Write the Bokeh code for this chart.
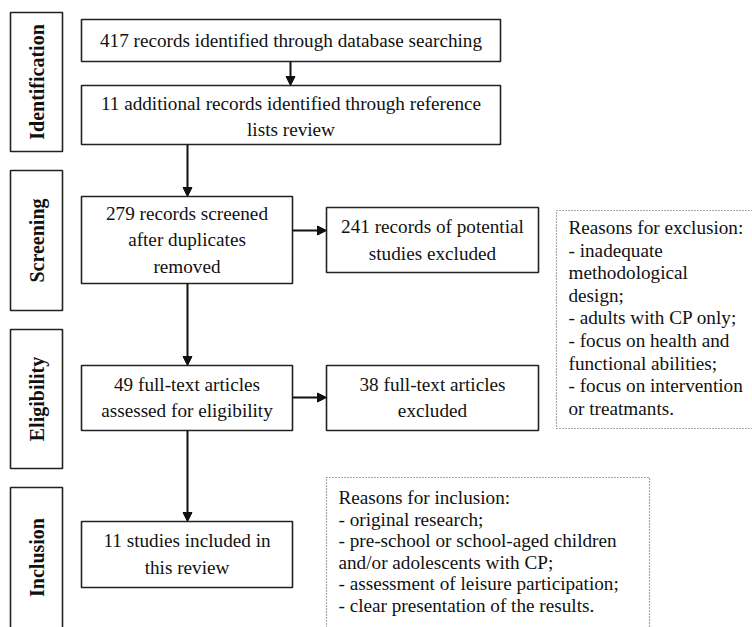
from math import pi
from bokeh.plotting import figure
from bokeh.models import Range1d, Arrow, NormalHead, ColumnDataSource
from bokeh.core.properties import value
from bokeh.embed import file_html
from bokeh.resources import INLINE

# ---- data ----
stages = ["Identification", "Screening", "Eligibility", "Inclusion"]
n_database = 417
n_additional = 11
n_screened = 279
n_excluded_screen = 241
n_fulltext = 49
n_excluded_full = 38
n_included = 11

box_texts = {
    "db": [f"{n_database} records identified through database searching"],
    "add": [f"{n_additional} additional records identified through reference", "lists review"],
    "screen": [f"{n_screened} records screened", "after duplicates", "removed"],
    "excl1": [f"{n_excluded_screen} records of potential", "studies excluded"],
    "full": [f"{n_fulltext} full-text articles", "assessed for eligibility"],
    "excl2": [f"{n_excluded_full} full-text articles", "excluded"],
    "incl": [f"{n_included} studies included in", "this review"],
}
exclusion_reasons = ["Reasons for exclusion:", "- inadequate", "methodological", "design;",
                     "- adults with CP only;", "- focus on health and", "functional abilities;",
                     "- focus on intervention", "or treatmants."]
inclusion_reasons = ["Reasons for inclusion:", "- original research;",
                     "- pre-school or school-aged children", "and/or adolescents with CP;",
                     "- assessment of leisure participation;", "- clear presentation of the results."]

# ---- layout (page pixel coordinates) ----
W, H = 752, 627
stage_boxes = [(10, 62, 12, 151), (10, 62, 170, 310), (10, 62, 329, 468), (10, 62, 487, 632)]
boxes = {
    "db": (81, 500, 19, 61, 40),
    "add": (81, 500, 85, 144, 116),
    "screen": (81, 292, 196, 283, 239),
    "excl1": (326, 538, 207, 272, 239.5),
    "full": (81, 292, 365, 430, 397),
    "excl2": (326, 538, 365, 430, 397),
    "incl": (81, 292, 521, 587, 553.5),
}
line_gap = 26.5
dotted = [(556, 770, 210, 428), (326, 649, 477, 640)]
dotted_text = [(568, 227, 22.6, exclusion_reasons), (338, 497, 21.6, inclusion_reasons)]
arrows = [(290, 61, 290, 85), (187, 144, 187, 196), (292, 230, 326, 230),
          (187, 283, 187, 365), (292, 397, 326, 397), (187, 430, 187, 521)]

FONT = value("Liberation Serif")
FS = "19.2px"

p = figure(width=W, height=H, x_range=Range1d(0, W), y_range=Range1d(H, 0),
           output_backend="svg", toolbar_location=None, x_axis_type=None, y_axis_type=None,
           min_border=0, outline_line_color=None, background_fill_color="white")
p.grid.visible = False

# stage boxes and labels
p.quad(left=[b[0] for b in stage_boxes], right=[b[1] for b in stage_boxes],
       top=[b[2] for b in stage_boxes], bottom=[b[3] for b in stage_boxes],
       fill_color=None, line_color="#222222", line_width=1.6)
p.text(x=[(b[0] + b[1]) / 2 for b in stage_boxes],
       y=[(b[2] + min(b[3], 627)) / 2 for b in stage_boxes],
       text=stages, angle=pi / 2, text_font=FONT, text_font_size="20px", text_font_style="bold",
       text_align="center", text_baseline="middle", text_color="#111111")

# main boxes
keys = list(boxes.keys())
p.quad(left=[boxes[k][0] for k in keys], right=[boxes[k][1] for k in keys],
       top=[boxes[k][2] for k in keys], bottom=[boxes[k][3] for k in keys],
       fill_color=None, line_color="#222222", line_width=1.6)
tx, ty, tt = [], [], []
for k in keys:
    l, r, t, b, cy = boxes[k]
    lines = box_texts[k]
    n = len(lines)
    for i, s in enumerate(lines):
        tx.append((l + r) / 2)
        ty.append(cy + (i - (n - 1) / 2) * line_gap)
        tt.append(s)
p.text(x=tx, y=ty, text=tt, text_font=FONT, text_font_size=FS, text_align="center",
       text_baseline="middle", text_color="#111111")

# dotted boxes
p.quad(left=[d[0] for d in dotted], right=[d[1] for d in dotted],
       top=[d[2] for d in dotted], bottom=[d[3] for d in dotted],
       fill_color=None, line_color="#555555", line_width=1.2, line_dash="1 2")
dx, dy, dt = [], [], []
for x0, y0, gap, lines in dotted_text:
    for i, s in enumerate(lines):
        dx.append(x0)
        dy.append(y0 + i * gap)
        dt.append(s)
p.text(x=dx, y=dy, text=dt, text_font=FONT, text_font_size=FS, text_align="left",
       text_baseline="middle", text_color="#111111")

# arrows
src = ColumnDataSource(dict(x0=[a[0] for a in arrows], y0=[a[1] for a in arrows],
                            x1=[a[2] for a in arrows], y1=[a[3] for a in arrows]))
p.add_layout(Arrow(x_start="x0", y_start="y0", x_end="x1", y_end="y1", source=src,
                   line_width=2, line_color="#111111",
                   end=NormalHead(size=9, fill_color="#111111", line_color="#111111", line_width=1)))

open("out.html", "w").write(file_html(p, INLINE))
